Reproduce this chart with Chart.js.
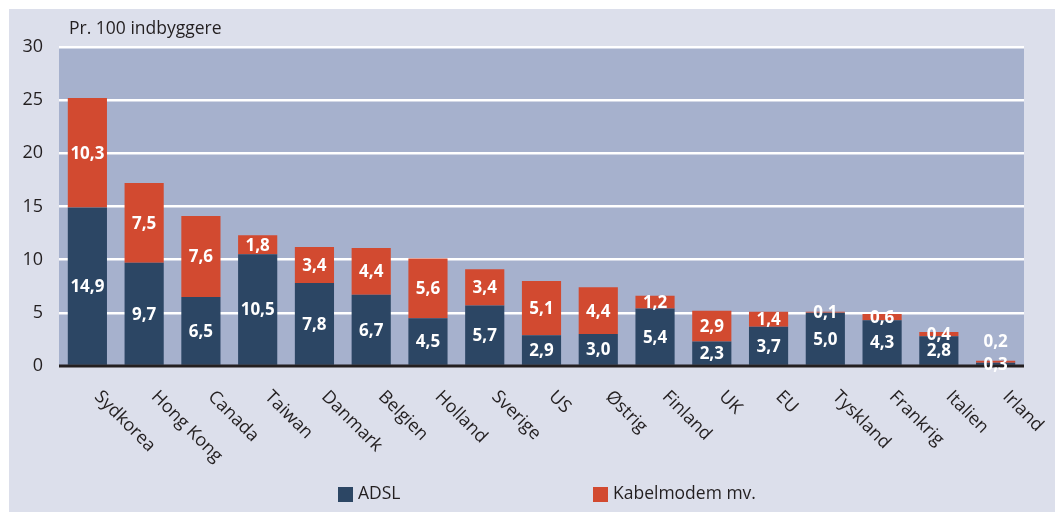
<!DOCTYPE html>
<html>
<head>
<meta charset="utf-8">
<script src="https://cdn.jsdelivr.net/npm/chart.js@4/dist/chart.umd.min.js"></script>
<style>
html,body{margin:0;padding:0;background:#fff;}
#wrap{width:1055px;height:512px;position:relative;}
</style>
</head>
<body>
<div id="wrap"><canvas id="c" width="1055" height="512"></canvas></div>
<script>
const categories = ["Sydkorea","Hong Kong","Canada","Taiwan","Danmark","Belgien","Holland","Sverige","US","Østrig","Finland","UK","EU","Tyskland","Frankrig","Italien","Irland"];
const adsl = [14.9, 9.7, 6.5, 10.5, 7.8, 6.7, 4.5, 5.7, 2.9, 3.0, 5.4, 2.3, 3.7, 5.0, 4.3, 2.8, 0.3];
const kabel = [10.3, 7.5, 7.6, 1.8, 3.4, 4.4, 5.6, 3.4, 5.1, 4.4, 1.2, 2.9, 1.4, 0.1, 0.6, 0.4, 0.2];
const seriesNames = ["ADSL", "Kabelmodem mv."];
const yTicks = [0, 5, 10, 15, 20, 25, 30];
const unitLabel = "Pr. 100 indbyggere";

const COL_ADSL = '#2c4664';
const COL_KABEL = '#d24a30';
const FONT = "'Open Sans', 'Noto Sans', sans-serif";

const fmt = v => v.toFixed(1).replace('.', ',');

const decor = {
  id: 'decor',
  beforeDraw(chart) {
    const ctx = chart.ctx, a = chart.chartArea;
    ctx.save();
    ctx.fillStyle = '#ffffff';
    ctx.fillRect(0, 0, chart.width, chart.height);
    ctx.fillStyle = '#dcdfeb';
    ctx.fillRect(9, 9, chart.width - 9, chart.height - 9);
    ctx.fillStyle = '#a6b1cd';
    ctx.fillRect(a.left, a.top, a.right - a.left, a.bottom - a.top);
    ctx.restore();
  },
  afterDatasetsDraw(chart) {
    const ctx = chart.ctx, a = chart.chartArea;
    const ys = chart.scales.y;
    ctx.save();
    const y0 = ys.getPixelForValue(0);
    ctx.strokeStyle = '#231f20';
    ctx.lineWidth = 3;
    ctx.beginPath();
    ctx.moveTo(a.left, y0);
    ctx.lineTo(a.right, y0);
    ctx.stroke();
    ctx.fillStyle = '#ffffff';
    ctx.font = "bold 17px " + FONT;
    ctx.textAlign = 'center';
    ctx.textBaseline = 'middle';
    const m0 = chart.getDatasetMeta(0), m1 = chart.getDatasetMeta(1);
    m0.data.forEach((el, i) => {
      const yc = (el.y + el.base) / 2;
      ctx.fillText(fmt(adsl[i]), el.x, yc + 1);
    });
    m1.data.forEach((el, i) => {
      let yc = (el.y + el.base) / 2;
      const total = y0 - el.y;
      if (total < 10) yc = el.y - 20;
      ctx.fillText(fmt(kabel[i]), el.x, yc + 1);
    });
    ctx.restore();
  },
  afterDraw(chart) {
    const ctx = chart.ctx, xs = chart.scales.x;
    ctx.save();
    ctx.fillStyle = '#231f20';
    ctx.font = "17.5px " + FONT;
    ctx.textAlign = 'left';
    ctx.textBaseline = 'alphabetic';
    ctx.fillText(unitLabel, 69, 34);
    ctx.font = "18px " + FONT;
    ctx.textBaseline = 'middle';
    categories.forEach((c, i) => {
      const x = xs.getPixelForValue(i);
      ctx.save();
      ctx.translate(x + 10, 394);
      ctx.rotate(Math.PI / 4);
      ctx.fillText(c, 0, 0);
      ctx.restore();
    });
    const items = [[COL_ADSL, seriesNames[0], 338], [COL_KABEL, seriesNames[1], 593]];
    ctx.font = "17.5px " + FONT;
    ctx.textBaseline = 'middle';
    items.forEach(([col, name, x]) => {
      ctx.fillStyle = col;
      ctx.fillRect(x, 487, 15, 15);
      ctx.fillStyle = '#231f20';
      ctx.fillText(name, x + 20, 494);
    });
    ctx.restore();
  }
};

new Chart(document.getElementById('c'), {
  type: 'bar',
  data: {
    labels: categories,
    datasets: [
      { label: seriesNames[0], data: adsl, backgroundColor: COL_ADSL, barPercentage: 0.69, categoryPercentage: 1 },
      { label: seriesNames[1], data: kabel, backgroundColor: COL_KABEL, barPercentage: 0.69, categoryPercentage: 1 }
    ]
  },
  options: {
    responsive: false,
    animation: false,
    devicePixelRatio: 1,
    layout: { padding: { top: 47, right: 31, bottom: 0, left: 9 } },
    plugins: { legend: { display: false }, tooltip: { enabled: false } },
    scales: {
      x: {
        stacked: true,
        ticks: { display: false },
        grid: { display: false },
        border: { display: false },
        afterFit: s => { s.height = 146; }
      },
      y: {
        stacked: true,
        min: 0, max: 30,
        afterBuildTicks: s => { s.ticks = yTicks.map(v => ({ value: v })); },
        ticks: { color: '#231f20', font: { size: 18, family: FONT }, padding: 16 },
        grid: {
          color: c => (c.tick && c.tick.value === 0) ? 'rgba(0,0,0,0)' : '#ffffff',
          lineWidth: 2.5,
          drawTicks: false
        },
        border: { display: false },
        afterFit: s => { s.width = 50; }
      }
    }
  },
  plugins: [decor]
});
</script>
</body>
</html>
